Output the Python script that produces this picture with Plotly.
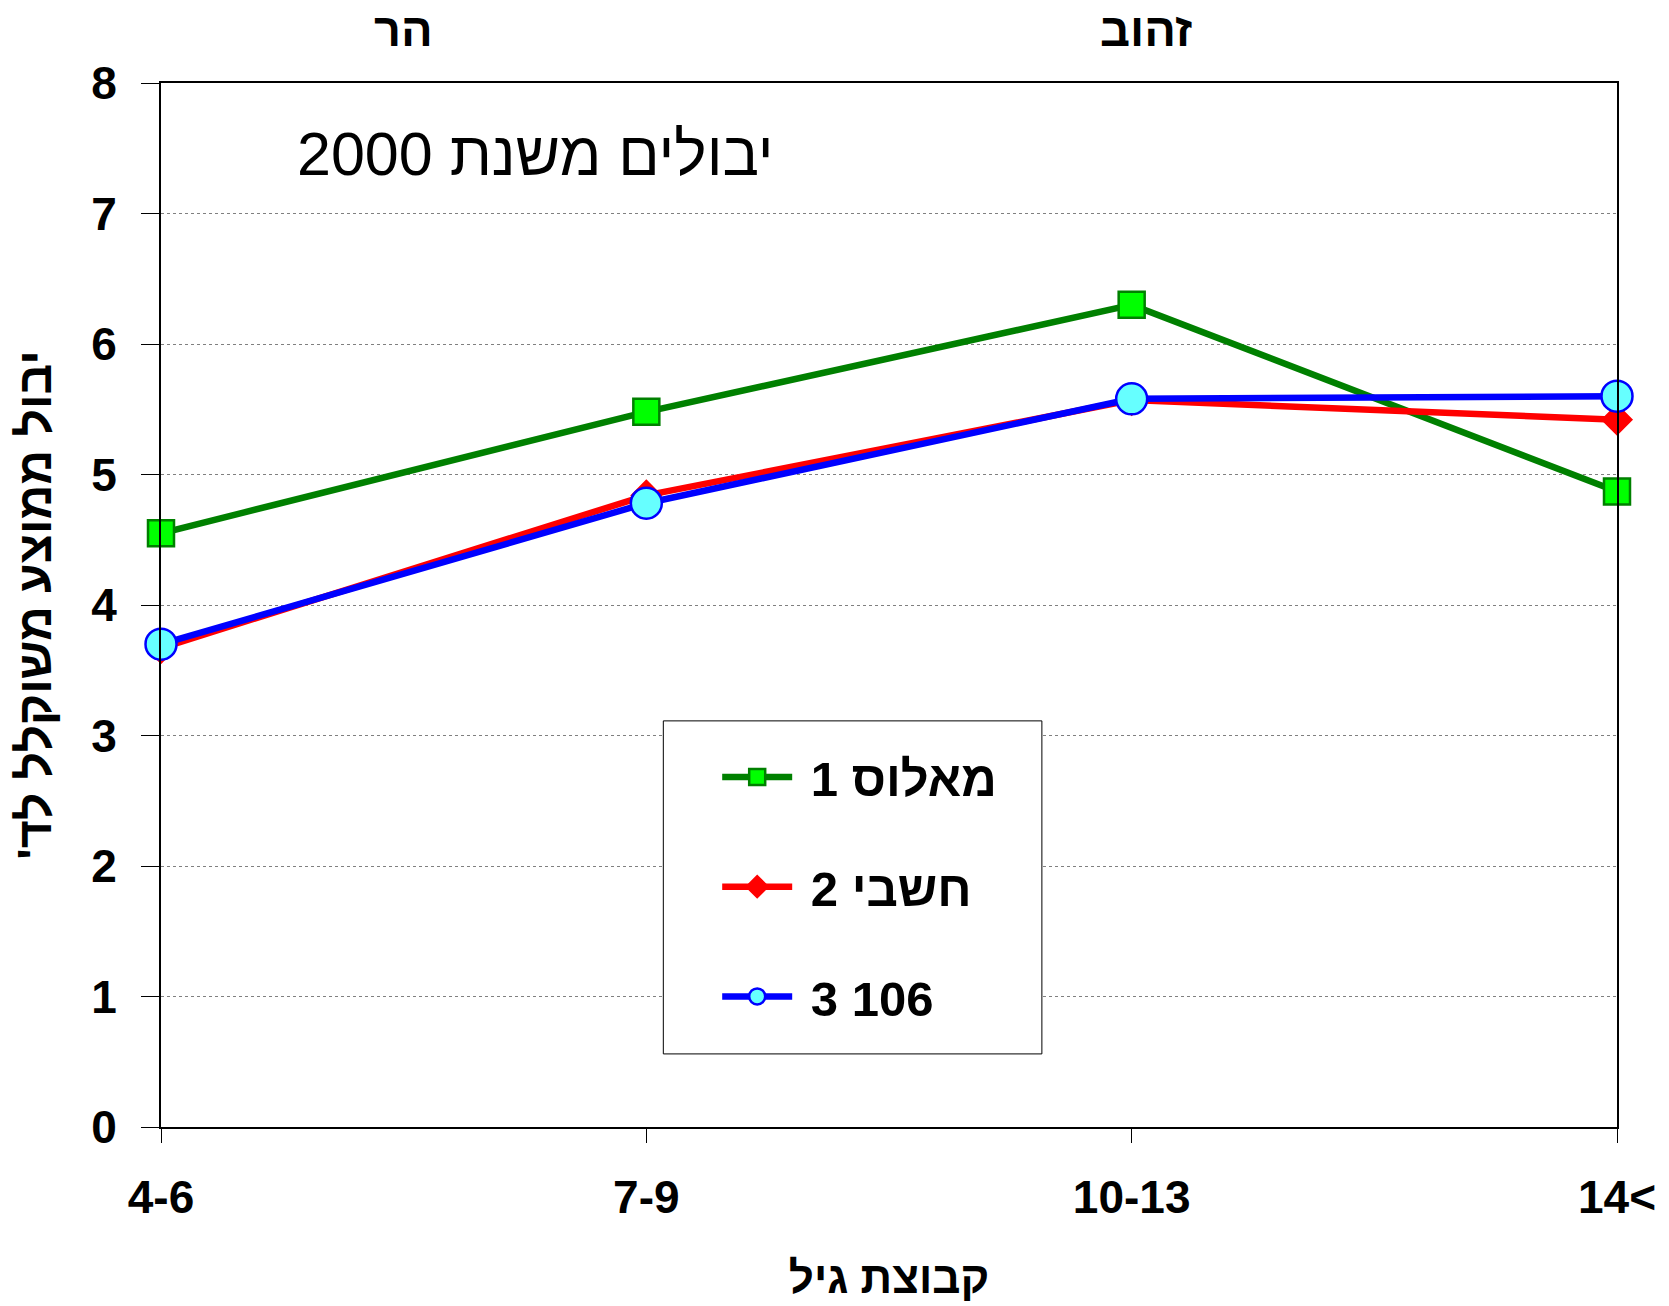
import plotly.graph_objects as go

# data
age_groups = ["4-6", "7-9", "10-13", "14<"]
series_names = ["מאלוס 1", "חשבי 2", "3 106"]
maalos_1 = [4.55, 5.48, 6.30, 4.87]
hashbi_2 = [3.67, 4.84, 5.57, 5.42]
s106_3 = [3.70, 4.78, 5.58, 5.60]

FONT = "Liberation Sans, Arial, sans-serif"

STYLES = [
    dict(line="#008000", fill="#00FF00", edge="#008000", symbol="square", size=26),
    dict(line="#FF0000", fill="#FF0000", edge="#FF0000", symbol="diamond", size=22),
    dict(line="#0000FF", fill="#66FFFF", edge="#0000FF", symbol="circle", size=31),
]

fig = go.Figure()
for name, vals, st in zip(series_names, [maalos_1, hashbi_2, s106_3], STYLES):
    fig.add_trace(go.Scatter(
        x=age_groups, y=vals, name="\u00a0" + name, mode="lines+markers", legendgroup=name,
        cliponaxis=False,
        line=dict(color=st["line"], width=6.5),
        marker=dict(symbol=st["symbol"], size=st["size"], color=st["fill"],
                    line=dict(color=st["edge"], width=2.5)),
    ))

fig.update_layout(
    width=1669, height=1306,
    margin=dict(l=161, r=52, t=83, b=179),
    plot_bgcolor="white", paper_bgcolor="white",
    font=dict(family=FONT, color="black", size=40),
    showlegend=True,
    legend=dict(x=0.382, y=0.372, xanchor="left", yanchor="top",
                bgcolor="rgba(0,0,0,0)", borderwidth=0,
                font=dict(size=49, family=FONT, weight="bold"),
                traceorder="grouped", tracegroupgap=43, itemwidth=70),
    xaxis=dict(
        type="category", range=[0, 3], showline=True, linecolor="black", linewidth=2,
        mirror=True, ticks="outside", ticklen=14, tickcolor="black", showgrid=False,
        automargin=False,
        tickfont=dict(size=46, family=FONT, weight="bold"), ticklabelstandoff=15,
        title=dict(text="קבוצת גיל", font=dict(size=44, family=FONT, weight="bold"), standoff=40),
    ),
    yaxis=dict(
        range=[0, 8], dtick=1, showline=True, linecolor="black", linewidth=2,
        mirror=True, ticks="outside", ticklen=18, tickcolor="black", automargin=False,
        showgrid=True, gridcolor="#808080", gridwidth=1, griddash="dot", zeroline=False,
        tickfont=dict(size=46, family=FONT, weight="bold"), ticklabelstandoff=15,
        title=dict(text="יבול ממוצע משוקלל לד'\u200f", font=dict(size=48, family=FONT, weight="bold"),
                   standoff=24),
    ),
    shapes=[dict(type="rect", xref="paper", yref="paper", x0=0.345, x1=0.605, y0=0.07, y1=0.389,
                 line=dict(color="black", width=1), fillcolor="white", layer="above")],
    annotations=[
        dict(text="יבולים משנת 2000", xref="paper", yref="paper", x=0.257, y=0.932,
             xanchor="center", yanchor="middle", showarrow=False, font=dict(size=61, family=FONT)),
        dict(text="הר", xref="x", yref="paper", x=0.5, y=1.051, xanchor="center", yanchor="middle",
             showarrow=False, font=dict(size=47, family=FONT, weight="bold")),
        dict(text="זהוב", xref="x", yref="paper", x=2.03, y=1.051, xanchor="center", yanchor="middle",
             showarrow=False, font=dict(size=47, family=FONT, weight="bold")),
    ],
)

# drop the default page margin so the figure fills the window exactly
fig.write_html("out.html", config={"displayModeBar": False},
               post_script="document.body.style.margin='0';")
